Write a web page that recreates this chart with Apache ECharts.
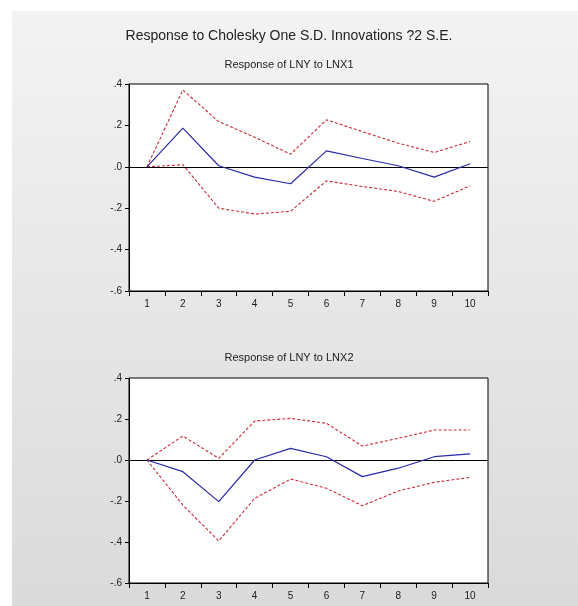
<!DOCTYPE html>
<html>
<head>
<meta charset="utf-8">
<script src="https://cdn.jsdelivr.net/npm/echarts@6/dist/echarts.min.js"></script>
<style>
html,body{margin:0;padding:0;background:#ffffff;}
#chart{width:578px;height:606px;}
</style>
</head>
<body>
<div id="chart"></div>
<script>
var periods = ['1','2','3','4','5','6','7','8','9','10'];
var yTicks = [-0.6, -0.4, -0.2, 0.0, 0.2, 0.4];

var resp1 = [0.0, 0.187, 0.005, -0.05, -0.082, 0.077, 0.04, 0.005, -0.05, 0.015];
var upper1 = [0.0, 0.371, 0.218, 0.143, 0.061, 0.227, 0.17, 0.114, 0.069, 0.122];
var lower1 = [0.0, 0.01, -0.2, -0.228, -0.215, -0.068, -0.095, -0.119, -0.167, -0.092];

var resp2 = [0.0, -0.057, -0.203, 0.0, 0.057, 0.016, -0.081, -0.04, 0.016, 0.03];
var upper2 = [0.0, 0.117, 0.008, 0.19, 0.203, 0.179, 0.068, 0.106, 0.146, 0.146];
var lower2 = [0.0, -0.22, -0.395, -0.187, -0.093, -0.138, -0.223, -0.151, -0.109, -0.085];

var mainTitle = 'Response to Cholesky One S.D. Innovations ?2 S.E.';
var subTitles = ['Response of LNY to LNX1', 'Response of LNY to LNX2'];

function fmtY(v){
  var r = Math.round(v*10)/10;
  if (r === 0) return '.0';
  var s = Math.abs(r).toFixed(1).replace(/^0/, '');
  return (r < 0 ? '-' : '') + s;
}

var textColor = '#222222';
var fontFam = 'Arial, "Liberation Sans", sans-serif';

function xAxis(idx){
  return {
    type: 'category', gridIndex: idx, data: periods, boundaryGap: true,
    axisLine: {onZero: false, lineStyle: {color: '#000', width: 1}},
    axisTick: {show: true, inside: false, length: 5, alignWithLabel: false, lineStyle: {color: '#000'}},
    axisLabel: {color: textColor, fontSize: 10, fontFamily: fontFam, margin: 8},
    splitLine: {show: false}
  };
}
function yAxis(idx){
  return {
    type: 'value', gridIndex: idx, min: yTicks[0], max: yTicks[yTicks.length-1], interval: 0.2,
    axisLine: {show: true, onZero: false, lineStyle: {color: '#000', width: 1}},
    axisTick: {show: true, inside: false, length: 4, lineStyle: {color: '#000'}},
    axisLabel: {color: textColor, fontSize: 10, fontFamily: fontFam, margin: 7, formatter: fmtY},
    splitLine: {show: false}
  };
}
function lineSeries(idx, data, kind){
  var s = {
    type: 'line', xAxisIndex: idx, yAxisIndex: idx, data: data,
    symbol: 'none', silent: true, animation: false
  };
  if (kind === 'resp') {
    s.lineStyle = {color: '#2a2aa8', width: 1.2, type: 'solid'};
    s.z = 5;
    s.markLine = {
      silent: true, symbol: ['none','none'], label: {show: false},
      lineStyle: {color: '#000', width: 1, type: 'solid'},
      data: [{yAxis: 0}], animation: false
    };
  } else {
    s.lineStyle = {color: '#cc2a38', width: 1.1, type: [3, 2]};
    s.z = 4;
  }
  return s;
}

var chart = echarts.init(document.getElementById('chart'), null, {renderer: 'canvas'});
chart.setOption({
  animation: false,
  backgroundColor: '#ffffff',
  graphic: [{
    type: 'rect', z: -10, silent: true,
    shape: {x: 12, y: 11, width: 566, height: 595},
    style: {fill: new echarts.graphic.LinearGradient(0, 0, 0, 1, [
      {offset: 0, color: '#f3f3f3'}, {offset: 1, color: '#dadada'}
    ])}
  }],
  title: [
    {text: mainTitle, left: 'center', top: 24, textStyle: {fontSize: 14, fontWeight: 'normal', color: textColor, fontFamily: fontFam}},
    {text: subTitles[0], left: 'center', top: 54, textStyle: {fontSize: 11, fontWeight: 'normal', color: textColor, fontFamily: fontFam}},
    {text: subTitles[1], left: 'center', top: 347, textStyle: {fontSize: 11, fontWeight: 'normal', color: textColor, fontFamily: fontFam}}
  ],
  grid: [
    {left: 129, top: 84, width: 359, height: 207, show: true, backgroundColor: '#ffffff', borderColor: '#000', borderWidth: 1},
    {left: 129, top: 378, width: 359, height: 205, show: true, backgroundColor: '#ffffff', borderColor: '#000', borderWidth: 1}
  ],
  xAxis: [xAxis(0), xAxis(1)],
  yAxis: [yAxis(0), yAxis(1)],
  series: [
    lineSeries(0, upper1, 'band'),
    lineSeries(0, lower1, 'band'),
    lineSeries(0, resp1, 'resp'),
    lineSeries(1, upper2, 'band'),
    lineSeries(1, lower2, 'band'),
    lineSeries(1, resp2, 'resp')
  ]
});
</script>
</body>
</html>
